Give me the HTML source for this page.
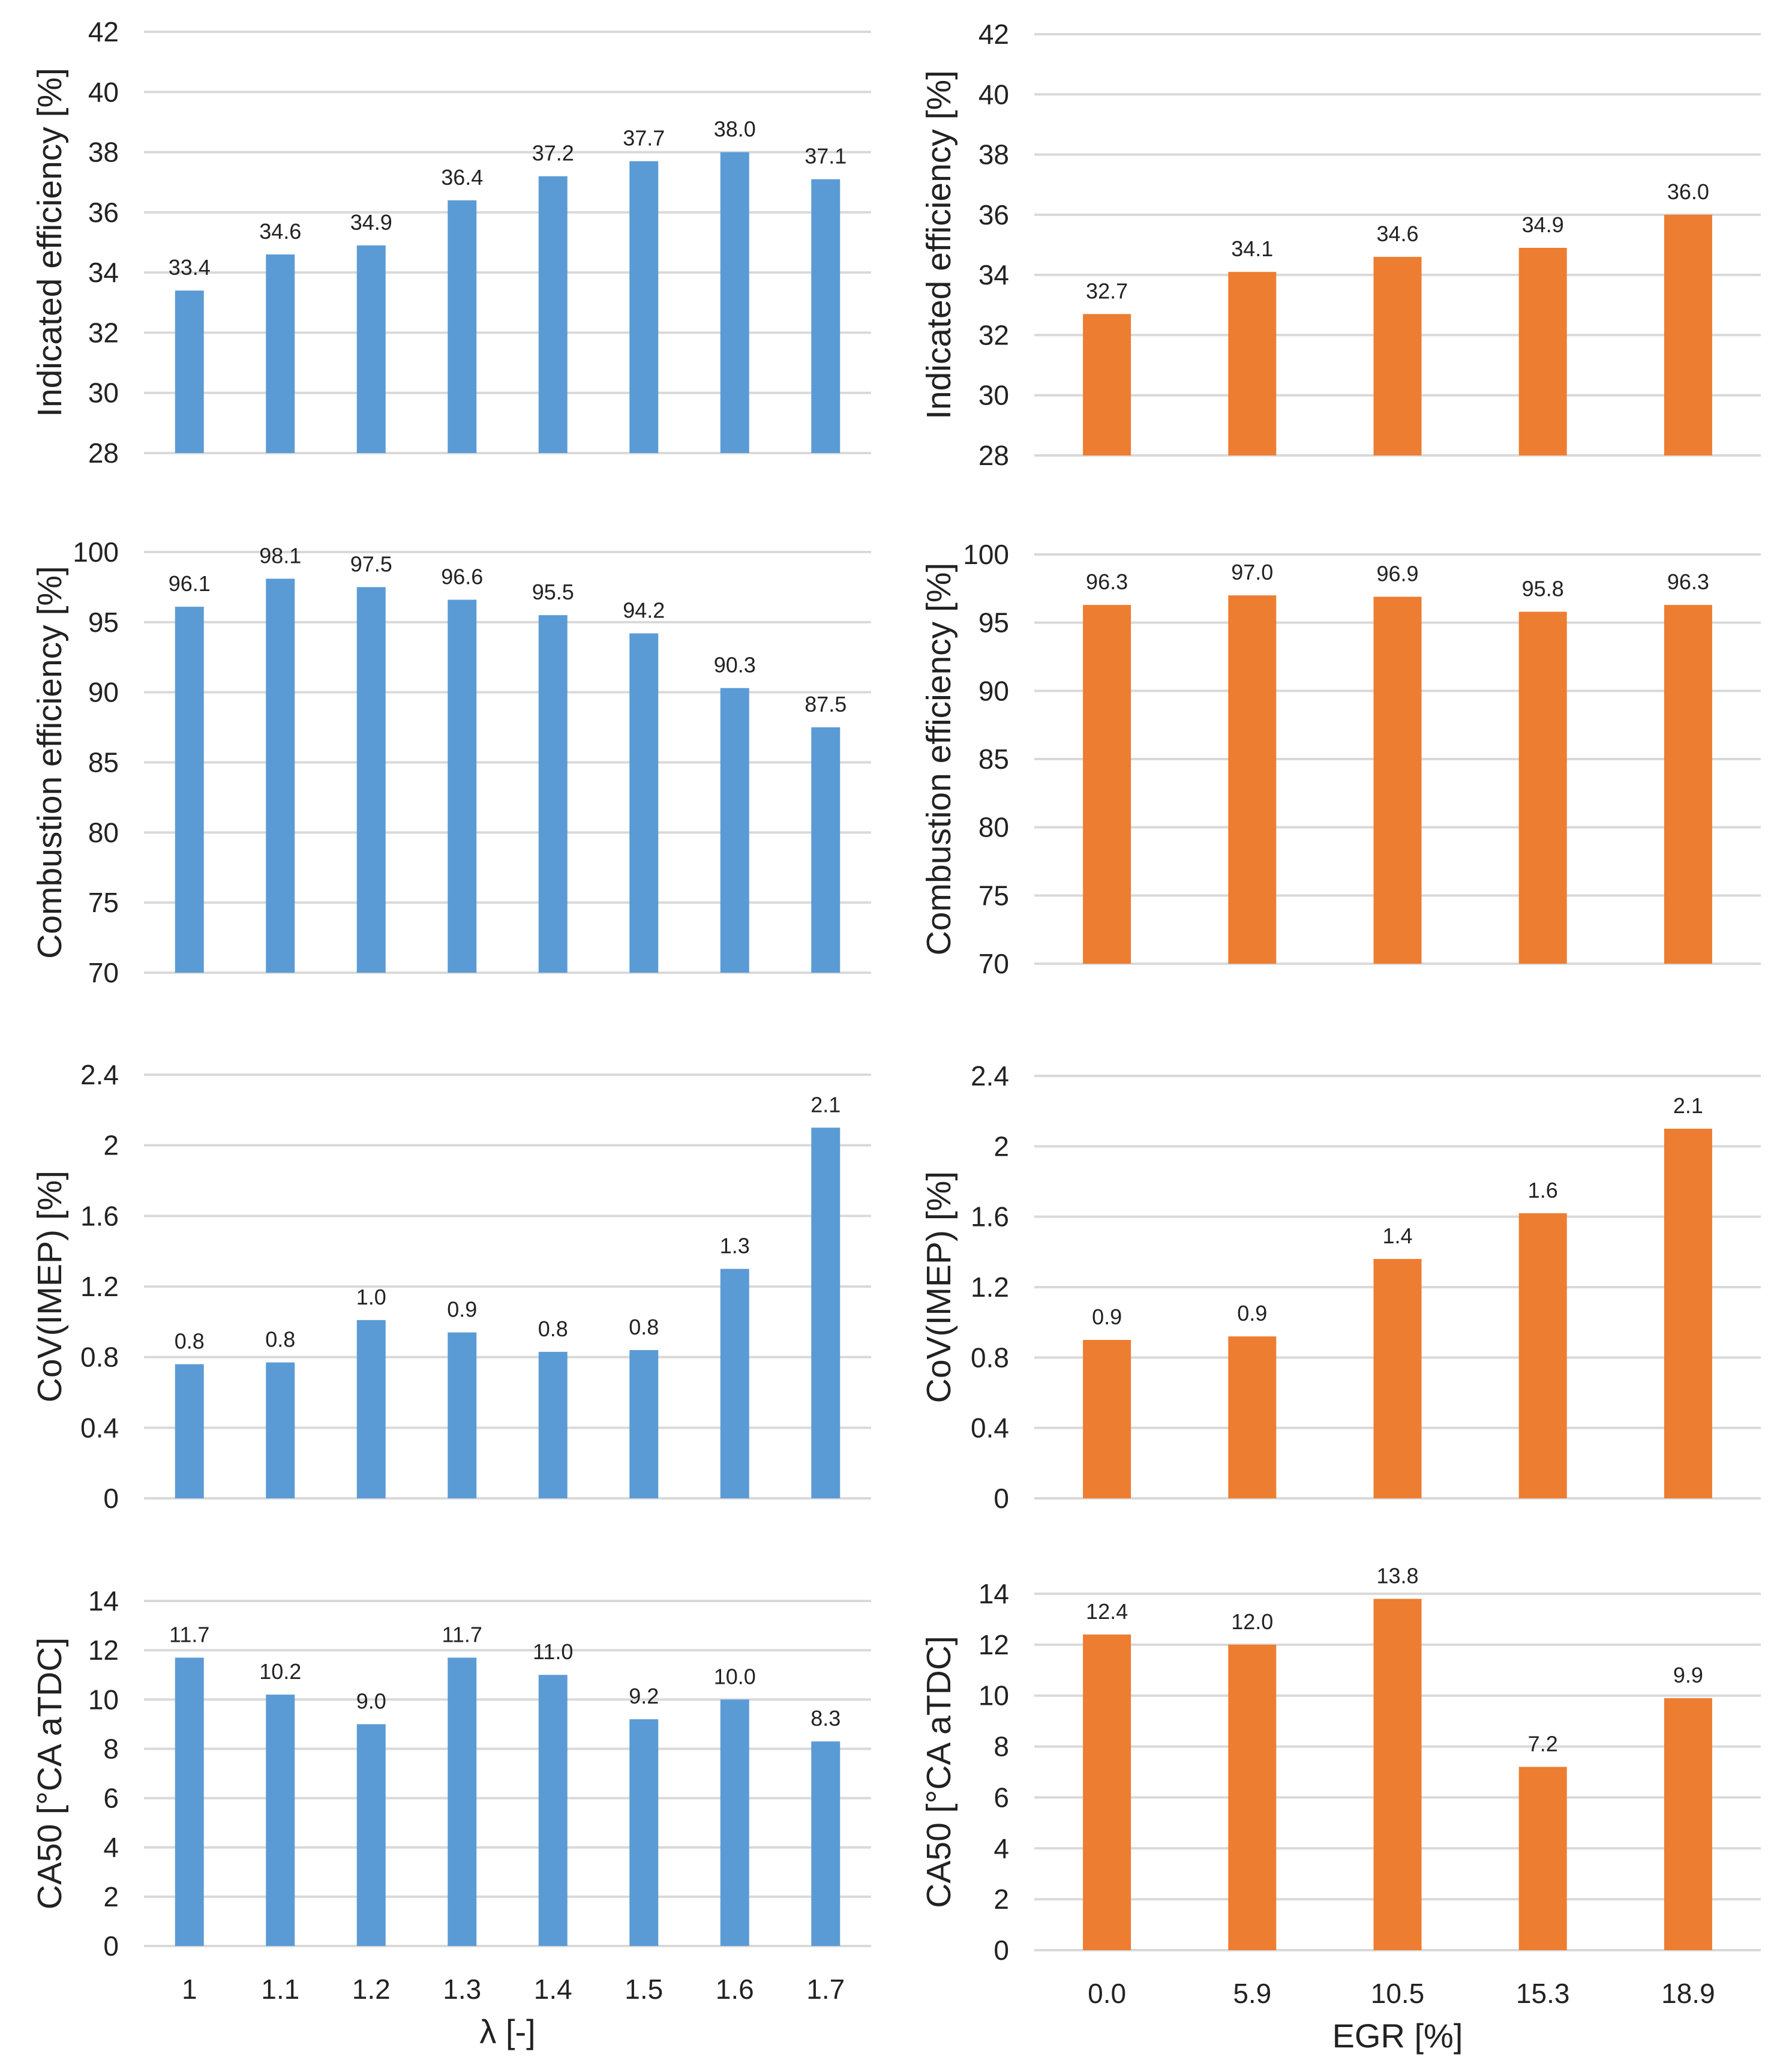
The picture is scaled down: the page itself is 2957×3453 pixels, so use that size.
<!DOCTYPE html>
<html><head><meta charset="utf-8">
<style>
html,body{margin:0;padding:0;background:#fff;}
svg{display:block;font-family:"Liberation Sans",sans-serif;}
</style></head>
<body>
<svg id="fig" width="2957" height="3453" viewBox="0 0 2957 3453" xmlns="http://www.w3.org/2000/svg"></svg>
<script>
const lambdaCats = ["1","1.1","1.2","1.3","1.4","1.5","1.6","1.7"];
const egrCats = ["0.0","5.9","10.5","15.3","18.9"];
const lamIndEff = [33.4,34.6,34.9,36.4,37.2,37.7,38.0,37.1];
const lamCombEff = [96.1,98.1,97.5,96.6,95.5,94.2,90.3,87.5];
const lamCov = [0.76,0.77,1.01,0.94,0.83,0.84,1.30,2.10];
const lamCovLbl = ["0.8","0.8","1.0","0.9","0.8","0.8","1.3","2.1"];
const lamCa50 = [11.7,10.2,9.0,11.7,11.0,9.2,10.0,8.3];
const egrIndEff = [32.7,34.1,34.6,34.9,36.0];
const egrCombEff = [96.3,97.0,96.9,95.8,96.3];
const egrCov = [0.90,0.92,1.36,1.62,2.10];
const egrCovLbl = ["0.9","0.9","1.4","1.6","2.1"];
const egrCa50 = [12.4,12.0,13.8,7.2,9.9];
const ticksInd = ["28","30","32","34","36","38","40","42"];
const ticksComb = ["70","75","80","85","90","95","100"];
const ticksCov = ["0","0.4","0.8","1.2","1.6","2","2.4"];
const ticksCa = ["0","2","4","6","8","10","12","14"];

const svg = document.getElementById('fig');
const NS = "http://www.w3.org/2000/svg";
function mk(tag, attrs, parent){
  const e = document.createElementNS(NS, tag);
  for (const k in attrs) e.setAttribute(k, attrs[k]);
  (parent||svg).appendChild(e);
  return e;
}
function chart(o){
  const g = mk('g', {});
  
  
  const ymin = +o.ticks[0], ymax = +o.ticks[o.ticks.length-1];
  const ys = v => o.y1 - (v - ymin) / (ymax - ymin) * (o.y1 - o.y0);
  const band = (o.x1 - o.x0) / o.cats.length;
  const xs = i => o.x0 + band * (i + 0.5);
  o.ticks.forEach(t => {
    const y = ys(+t);
    const l = mk('line', {x1:o.x0, x2:o.x1, y1:y, y2:y, stroke:'#d9d9d9', 'stroke-width':4}, g);
    
    
    const tx = mk('text', {x:o.x0-42, y:y+16, 'text-anchor':'end', 'font-size':46, fill:'#222'}, g);
    tx.textContent = t;
    
    
  });
  o.vals.forEach((v, i) => {
    const top = ys(v), base = ys(ymin);
    const r = mk('rect', {x:xs(i)-o.bw/2, y:top, width:o.bw, height:base-top, fill:o.color}, g);
    
    
    const lb = mk('text', {x:xs(i), y:top-26, 'text-anchor':'middle', 'font-size':36, fill:'#222'}, g);
    lb.textContent = o.labels ? o.labels[i] : v.toFixed(1);
    
    
    if (o.xlabels){
      const xl = mk('text', {x:xs(i), y:o.y1+88, 'text-anchor':'middle', 'font-size':46, fill:'#222'}, g);
      xl.textContent = o.cats[i];
      
      
    }
  });
  const cy = (o.y0 + o.y1) / 2;
  const yt = mk('text', {x:0, y:0, transform:`translate(${o.tx},${cy}) rotate(-90)`, 'text-anchor':'middle', 'font-size':57, fill:'#222'}, g);
  yt.textContent = o.title;
  
  
  if (o.xtitle){
    const xt = mk('text', {x:(o.x0+o.x1)/2, y:o.y1+162, 'text-anchor':'middle', 'font-size':56, fill:'#222'}, g);
    xt.textContent = o.xtitle;
    
    
  }
}
const L = {x0:240, x1:1452, bw:48, color:'#5b9bd5', cats:lambdaCats, tx:102};
const R = {x0:1724, x1:2935, bw:80, color:'#ed7d31', cats:egrCats, tx:1584};
chart(Object.assign({}, L, {name:'lambda-indicated-efficiency-chart', y0:53, y1:755, vals:lamIndEff, ticks:ticksInd, title:'Indicated efficiency [%]'}));
chart(Object.assign({}, L, {name:'lambda-combustion-efficiency-chart', y0:920, y1:1621, vals:lamCombEff, ticks:ticksComb, title:'Combustion efficiency [%]'}));
chart(Object.assign({}, L, {name:'lambda-cov-chart', y0:1791, y1:2497, vals:lamCov, labels:lamCovLbl, ticks:ticksCov, title:'CoV(IMEP) [%]'}));
chart(Object.assign({}, L, {name:'lambda-ca50-chart', y0:2668, y1:3243, vals:lamCa50, ticks:ticksCa, title:'CA50 [°CA aTDC]', xlabels:true, xtitle:'λ [-]'}));
chart(Object.assign({}, R, {name:'egr-indicated-efficiency-chart', y0:57, y1:759, vals:egrIndEff, ticks:ticksInd, title:'Indicated efficiency [%]'}));
chart(Object.assign({}, R, {name:'egr-combustion-efficiency-chart', y0:924, y1:1606, vals:egrCombEff, ticks:ticksComb, title:'Combustion efficiency [%]'}));
chart(Object.assign({}, R, {name:'egr-cov-chart', y0:1793, y1:2497, vals:egrCov, labels:egrCovLbl, ticks:ticksCov, title:'CoV(IMEP) [%]'}));
chart(Object.assign({}, R, {name:'egr-ca50-chart', y0:2656, y1:3250, vals:egrCa50, ticks:ticksCa, title:'CA50 [°CA aTDC]', xlabels:true, xtitle:'EGR [%]'}));
</script>
</body></html>
